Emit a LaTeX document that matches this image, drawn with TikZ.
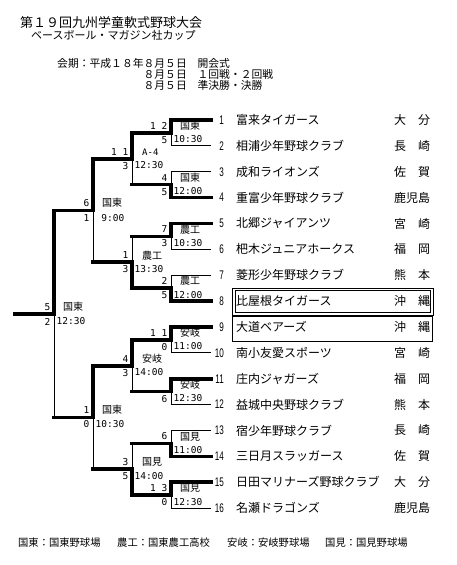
\documentclass[tikz,border=0pt]{standalone}
\usepackage{fontspec}
\setmainfont{Noto Sans CJK JP}
\newfontfamily\monof{DejaVu Sans Mono}
\newfontfamily\numf[FakeStretch=0.65]{Liberation Sans}
\usetikzlibrary{calc}
\begin{document}
\begin{tikzpicture}[x=1pt,y=-1pt,
  thinln/.style={line width=0.9pt},
  winln/.style={line width=3.6pt, line cap=rect, line join=miter},
  boxln/.style={line width=0.9pt},
  scorelbl/.style={font=\monof\fontsize{9.5}{10}\selectfont, inner sep=0pt, anchor=east},
  timelbl/.style={font=\monof\fontsize{9.5}{10}\selectfont, inner sep=0pt, anchor=west},
  venuelbl/.style={font=\fontsize{10}{10}\selectfont, inner sep=0pt, anchor=west},
  teamnum/.style={font=\numf\fontsize{12.5}{12.5}\selectfont, inner sep=0pt, anchor=east},
  teamname/.style={font=\fontsize{12}{12}\selectfont, inner sep=0pt, anchor=west},
  headtxt/.style={inner sep=0pt, anchor=west},
  legendtxt/.style={font=\fontsize{10.3}{11}\selectfont, inner sep=0pt, anchor=west},
]
\fill[white] (0,0) rectangle (457,565);
\useasboundingbox (0,0) rectangle (457,565);

% header
\node[headtxt, font=\fontsize{13}{13}\selectfont] (title) at (20,23) {第１９回九州学童軟式野球大会};
\node[headtxt, font=\fontsize{11}{11}\selectfont] (subtitle) at (31,35) {ベースボール・マガジン社カップ};
\node[headtxt, font=\fontsize{10.8}{11}\selectfont] (sched1) at (57,63) {会期：平成１８年８月５日　開会式};
\node[headtxt, font=\fontsize{10.8}{11}\selectfont] (sched2) at (143.4,74) {８月５日　１回戦・２回戦};
\node[headtxt, font=\fontsize{10.8}{11}\selectfont] (sched3) at (143.4,85) {８月５日　準決勝・決勝};

% coordinates
\foreach \i in {1,...,16}{
  \pgfmathsetmacro{\yy}{120+(\i-1)*25.87}
  \coordinate (b\i) at (171,\yy);
  \coordinate (e\i) at (211,\yy);
}
\foreach \k in {1,...,8}{
  \pgfmathsetmacro{\yy}{120+(2*\k-1.5)*25.87}
  \coordinate (m\k) at (171,\yy);
  \coordinate (mm\k) at (132,\yy);
}
\foreach \j in {1,...,4}{
  \pgfmathsetmacro{\yy}{120+(4*\j-2.5)*25.87}
  \coordinate (q\j) at (132,\yy);
  \coordinate (qq\j) at (93,\yy);
}
\foreach \l in {1,2}{
  \pgfmathsetmacro{\yy}{120+(8*\l-4.5)*25.87}
  \coordinate (s\l) at (93,\yy);
  \coordinate (ss\l) at (54,\yy);
}
\coordinate (f) at (54,{120+7.5*25.87});
\coordinate (ff) at (15,{120+7.5*25.87});

% thin lines
\foreach \i in {1,...,16}{ \draw[thinln] (b\i) -- (e\i); }
\foreach \k [evaluate=\k as \a using int(2*\k-1), evaluate=\k as \b using int(2*\k)] in {1,...,8}{
  \draw[thinln] (b\a) -- (b\b);
}
\foreach \j [evaluate=\j as \a using int(2*\j-1), evaluate=\j as \b using int(2*\j)] in {1,...,4}{
  \draw[thinln] (mm\a) -- (mm\b);
}
\draw[thinln] (qq1) -- (qq2);
\draw[thinln] (qq3) -- (qq4);
\draw[thinln] (ss1) -- (ss2);

% winner paths
\draw[winln] (e1) -- (b1) -- (m1) -- (mm1) -- (q1) -- (qq1) -- (s1) -- (ss1) -- (f) -- (ff);
\draw[winln] (e4) -- (b4) -- (m2) -- (mm2);
\draw[winln] (e5) -- (b5) -- (m3) -- (mm3);
\draw[winln] (e8) -- (b8) -- (m4) -- (mm4) -- (q2) -- (qq2);
\draw[winln] (e9) -- (b9) -- (m5) -- (mm5) -- (q3) -- (qq3) -- (s2) -- (ss2);
\draw[winln] (e11) -- (b11) -- (m6) -- (mm6);
\draw[winln] (e14) -- (b14) -- (m7) -- (mm7);
\draw[winln] (e15) -- (b15) -- (m8) -- (mm8) -- (q4) -- (qq4);

% round 1 labels
\foreach \k/\ta/\tb/\v/\tm in {1/1 2/5/国東/10:30, 2/4/5/国東/12:00, 3/7/3/農工/10:30, 4/2/5/農工/12:00,
   5/1 1/0/安岐/11:00, 6//6/安岐/12:30, 7/6//国見/11:00, 8/1 3/0/国見/12:30}{
  \node[scorelbl] (ra\k) at ($(m\k)+(-3.5,-7)$) {\ta};
  \node[scorelbl] (rb\k) at ($(m\k)+(-3.5,7)$) {\tb};
  \node[venuelbl] (rv\k) at ($(m\k)+(9,-7)$) {\v};
  \node[timelbl] (rt\k) at ($(m\k)+(2.5,6.5)$) {\tm};
}
% round 2 labels
\foreach \j/\ta/\tb/\v/\tm in {1/1 1/3/{\monof\fontsize{9}{9}\selectfont A-4}/12:30, 2/1/3/農工/13:30, 3/4/3/安岐/14:00, 4/3/5/国見/14:00}{
  \node[scorelbl] (qa\j) at ($(q\j)+(-3.5,-7)$) {\ta};
  \node[scorelbl] (qb\j) at ($(q\j)+(-3.5,7)$) {\tb};
  \node[venuelbl] (qv\j) at ($(q\j)+(10,-7)$) {\v};
  \node[timelbl] (qt\j) at ($(q\j)+(2.5,6.5)$) {\tm};
}
% round 3 labels
\foreach \l/\ta/\tb/\tm in {1/6/1/\phantom{1}9:00, 2/1/0/10:30}{
  \node[scorelbl] (sa\l) at ($(s\l)+(-3.5,-7.5)$) {\ta};
  \node[scorelbl] (sb\l) at ($(s\l)+(-3.5,7)$) {\tb};
  \node[venuelbl] (sv\l) at ($(s\l)+(9,-7.5)$) {国東};
  \node[timelbl] (st\l) at ($(s\l)+(2.5,7)$) {\tm};
}
% final labels
\node[scorelbl] (fa) at ($(f)+(-3.5,-7)$) {5};
\node[scorelbl] (fb) at ($(f)+(-3.5,7.5)$) {2};
\node[venuelbl] (fv) at ($(f)+(9,-7)$) {国東};
\node[timelbl] (ft) at ($(f)+(2.5,7.5)$) {12:30};

% teams
\foreach \i/\nm/\pf in {1/富来タイガース/大　分, 2/相浦少年野球クラブ/長　崎, 3/成和ライオンズ/佐　賀,
  4/重富少年野球クラブ/鹿児島, 5/北郷ジャイアンツ/宮　崎, 6/杷木ジュニアホークス/福　岡,
  7/菱形少年野球クラブ/熊　本, 8/比屋根タイガース/沖　縄, 9/大道ベアーズ/沖　縄,
  10/南小友愛スポーツ/宮　崎, 11/庄内ジャガーズ/福　岡, 12/益城中央野球クラブ/熊　本,
  13/宿少年野球クラブ/長　崎, 14/三日月スラッガース/佐　賀, 15/日田マリナーズ野球クラブ/大　分,
  16/名瀬ドラゴンズ/鹿児島}{
  \pgfmathsetmacro{\yy}{120+(\i-1)*25.87}
  \node[teamnum] (n\i) at (224,\yy) {\i};
  \node[teamname] (tn\i) at (236,\yy) {\nm};
  \node[teamname] (tp\i) at (394,\yy) {\pf};
}

% highlight boxes
\draw[boxln] (232.5,288) rectangle (433,315);
\draw[boxln] (235,290.5) rectangle (430.5,312.5);
\draw[boxln] (232.5,316.5) rectangle (432,341);

% legend
\node[legendtxt] (lg1) at (18,543) {国東：国東野球場};
\node[legendtxt] (lg2) at (117,543) {農工：国東農工高校};
\node[legendtxt] (lg3) at (227,543) {安岐：安岐野球場};
\node[legendtxt] (lg4) at (325,543) {国見：国見野球場};
\end{tikzpicture}
\end{document}
